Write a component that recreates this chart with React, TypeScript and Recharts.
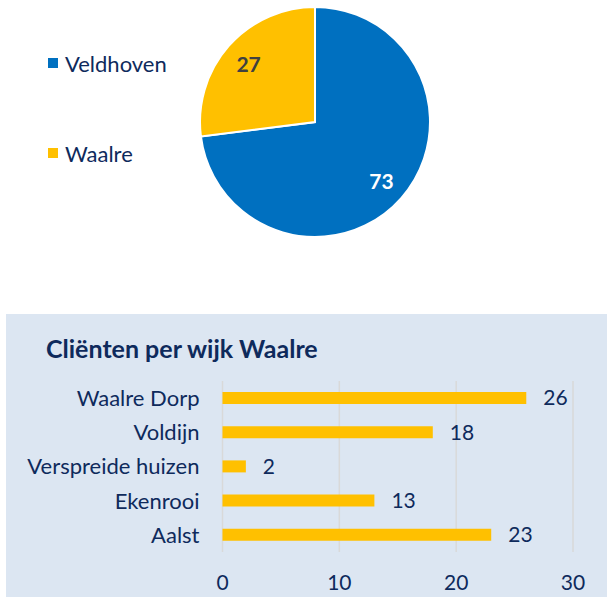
import React from 'react';
import { PieChart, Pie, Cell, BarChart, Bar, XAxis, YAxis, CartesianGrid, LabelList } from 'recharts';

const pieNames = ['Veldhoven', 'Waalre'];
const pieValues = [73, 27];
const pieColors = ['#0070C0', '#FFC000'];
const pieLabelColors = ['#FFFFFF', '#404040'];

const wijken = ['Waalre Dorp', 'Voldijn', 'Verspreide huizen', 'Ekenrooi', 'Aalst'];
const wijkValues = [26, 18, 2, 13, 23];
const xTicks = [0, 10, 20, 30];

const pieData = pieNames.map((n, i) => ({ name: n, value: pieValues[i] }));
const barData = wijken.map((n, i) => ({ name: n, value: wijkValues[i] }));

const FONT = 'Lato, "Open Sans", sans-serif';
const NAVY = '#0E2A5C';

const RAD = Math.PI / 180;
const renderPieLabel = (props: any) => {
  const { cx, cy, midAngle, outerRadius, index, value } = props;
  const r = outerRadius * 0.77;
  const x = cx + r * Math.cos(-midAngle * RAD);
  const y = cy + r * Math.sin(-midAngle * RAD);
  return (
    <text x={x} y={y} fill={pieLabelColors[index]} textAnchor="middle" dominantBaseline="central"
      fontFamily={FONT} fontSize={21} fontWeight={700}>
      {value}
    </text>
  );
};

export default function App() {
  return (
    <div style={{ position: 'absolute', left: 0, top: 0, width: 607, height: 597, background: '#FFFFFF', overflow: 'hidden' }}>
      <div style={{ position: 'absolute', left: 0, top: 0 }}>
        <PieChart width={607} height={300} margin={{ top: 0, right: 0, bottom: 0, left: 0 }}>
          <Pie
            data={pieData}
            dataKey="value"
            nameKey="name"
            cx={315}
            cy={122}
            outerRadius={115}
            startAngle={90}
            endAngle={-270}
            stroke="#FFFFFF"
            strokeWidth={2}
            label={renderPieLabel}
            labelLine={false}
            isAnimationActive={false}
          >
            {pieData.map((d, i) => (
              <Cell key={d.name} fill={pieColors[i]} />
            ))}
          </Pie>
        </PieChart>
      </div>
      <div style={{ position: 'absolute', left: 48, top: 50, fontFamily: FONT }}>
        {pieNames.map((n, i) => (
          <div key={n} style={{ display: 'flex', alignItems: 'center', height: 26, marginBottom: i === 0 ? 64 : 0 }}>
            <span style={{ display: 'inline-block', width: 10, height: 10, background: pieColors[i], marginRight: 7 }} />
            <span style={{ fontSize: 22, color: NAVY }}>{n}</span>
          </div>
        ))}
      </div>
      <div style={{ position: 'absolute', left: 6, top: 314, width: 601, height: 283, background: '#DCE6F2' }}>
        <div style={{ position: 'absolute', left: 40, top: 19, fontFamily: FONT, fontWeight: 700, fontSize: 25, color: NAVY, whiteSpace: 'nowrap' }}>
          Cliënten per wijk Waalre
        </div>
        <div style={{ position: 'absolute', left: 0, top: 0 }}>
          <BarChart
            width={601}
            height={283}
            data={barData}
            layout="vertical"
            margin={{ top: 67, right: 34, bottom: 0, left: 0 }}
            barCategoryGap={0}
          >
            <CartesianGrid horizontal={false} vertical stroke="#D9D9D9" strokeWidth={1.5} />
            <XAxis
              type="number"
              domain={[0, 30]}
              ticks={xTicks}
              axisLine={false}
              tickLine={false}
              tickSize={0}
              tickMargin={23}
              height={45}
              tick={{ fill: NAVY, fontSize: 21, fontFamily: FONT }}
            />
            <YAxis
              type="category"
              dataKey="name"
              width={216.5}
              axisLine={false}
              tickLine={false}
              tickSize={0}
              tickMargin={23}
              tick={{ fill: NAVY, fontSize: 22, fontFamily: FONT }}
            />
            <Bar dataKey="value" fill="#FFC000" barSize={12} isAnimationActive={false}>
              <LabelList dataKey="value" position="right" offset={17} fill={NAVY} fontSize={21} fontFamily={FONT} />
            </Bar>
          </BarChart>
        </div>
      </div>
    </div>
  );
}
